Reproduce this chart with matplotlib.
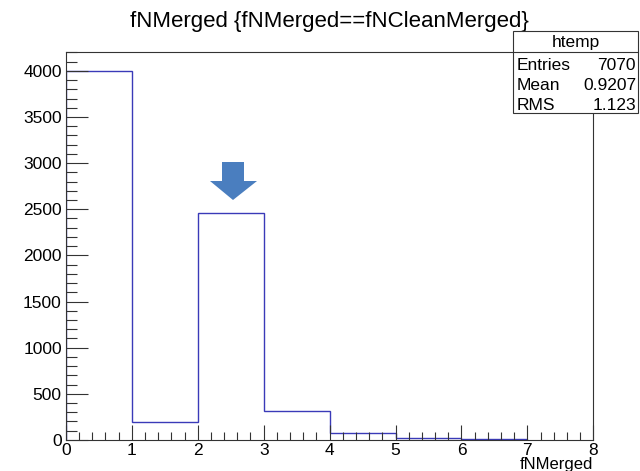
import matplotlib
matplotlib.use('Agg')
import matplotlib.pyplot as plt
from matplotlib.patches import Polygon, Rectangle
from matplotlib.ticker import MultipleLocator

plt.rcParams['font.family'] = ['Liberation Sans', 'DejaVu Sans']

# histogram of fNMerged (integer values, unit bins)
bin_edges = [0, 1, 2, 3, 4, 5, 6, 7]
counts = [4000, 190, 2462, 308, 75, 22, 13]
stats_names = ['Entries', 'Mean', 'RMS']
stats_values = ['7070', '0.9207', '1.123']

fig = plt.figure(figsize=(6.4, 4.71), dpi=100)
ax = fig.add_axes([0.103, 0.066, 0.824, 0.824])

ax.stairs(counts, bin_edges, color='#3a3ab8', lw=1.0)
ax.set_xlim(0, 8)
ax.set_ylim(0, 4206)

ax.xaxis.set_major_locator(MultipleLocator(1))
ax.xaxis.set_minor_locator(MultipleLocator(0.2))
ax.yaxis.set_major_locator(MultipleLocator(500))
ax.yaxis.set_minor_locator(MultipleLocator(100))
ax.tick_params(which='both', direction='in', top=False, right=False,
               labelsize=12.5, width=0.8, color='#333333')
ax.tick_params(axis='x', which='major', length=11, pad=2)
ax.tick_params(axis='x', which='minor', length=6)
ax.tick_params(axis='y', which='major', length=16, pad=3)
ax.tick_params(axis='y', which='minor', length=8)
for s in ax.spines.values():
    s.set_linewidth(0.8)
    s.set_color('#333333')

fig.text(0.927, -0.003, 'fNMerged', ha='right', va='bottom', fontsize=12)
fig.text(0.514, 0.955, 'fNMerged {fNMerged==fNCleanMerged}', ha='center',
         va='center', fontsize=16)

# stats box
W, H = 640.0, 471.0
bx0, bx1, by0, by1, bh = 513, 638, 31, 113, 52
fig.patches.append(Rectangle((bx0 / W, 1 - by1 / H), (bx1 - bx0) / W, (by1 - by0) / H,
                             transform=fig.transFigure, facecolor='white',
                             edgecolor='#333333', lw=0.8, zorder=5))
fig.lines.append(plt.Line2D([bx0 / W, bx1 / W], [1 - bh / H, 1 - bh / H],
                            transform=fig.transFigure, color='#333333', lw=0.8, zorder=6))
fig.text((bx0 + bx1) / 2 / W, 1 - 42 / H, 'htemp', ha='center', va='center',
         fontsize=12.5, zorder=7)
for i, (n, v) in enumerate(zip(stats_names, stats_values)):
    yy = 1 - (65 + i * 20.5) / H
    fig.text((bx0 + 4) / W, yy, n, ha='left', va='center', fontsize=12.5, zorder=7)
    fig.text((bx1 - 2) / W, yy, v, ha='right', va='center', fontsize=12.5, zorder=7)

# blue arrow marker
arrow_px = [(222, 162), (244, 162), (244, 181), (257, 181), (233, 200),
            (210, 181), (222, 181)]
fig.patches.append(Polygon([(x / W, 1 - y / H) for x, y in arrow_px],
                           closed=True, transform=fig.transFigure,
                           facecolor='#4a7ebf', edgecolor='none', zorder=8))

fig.savefig('out.png', dpi=100)
